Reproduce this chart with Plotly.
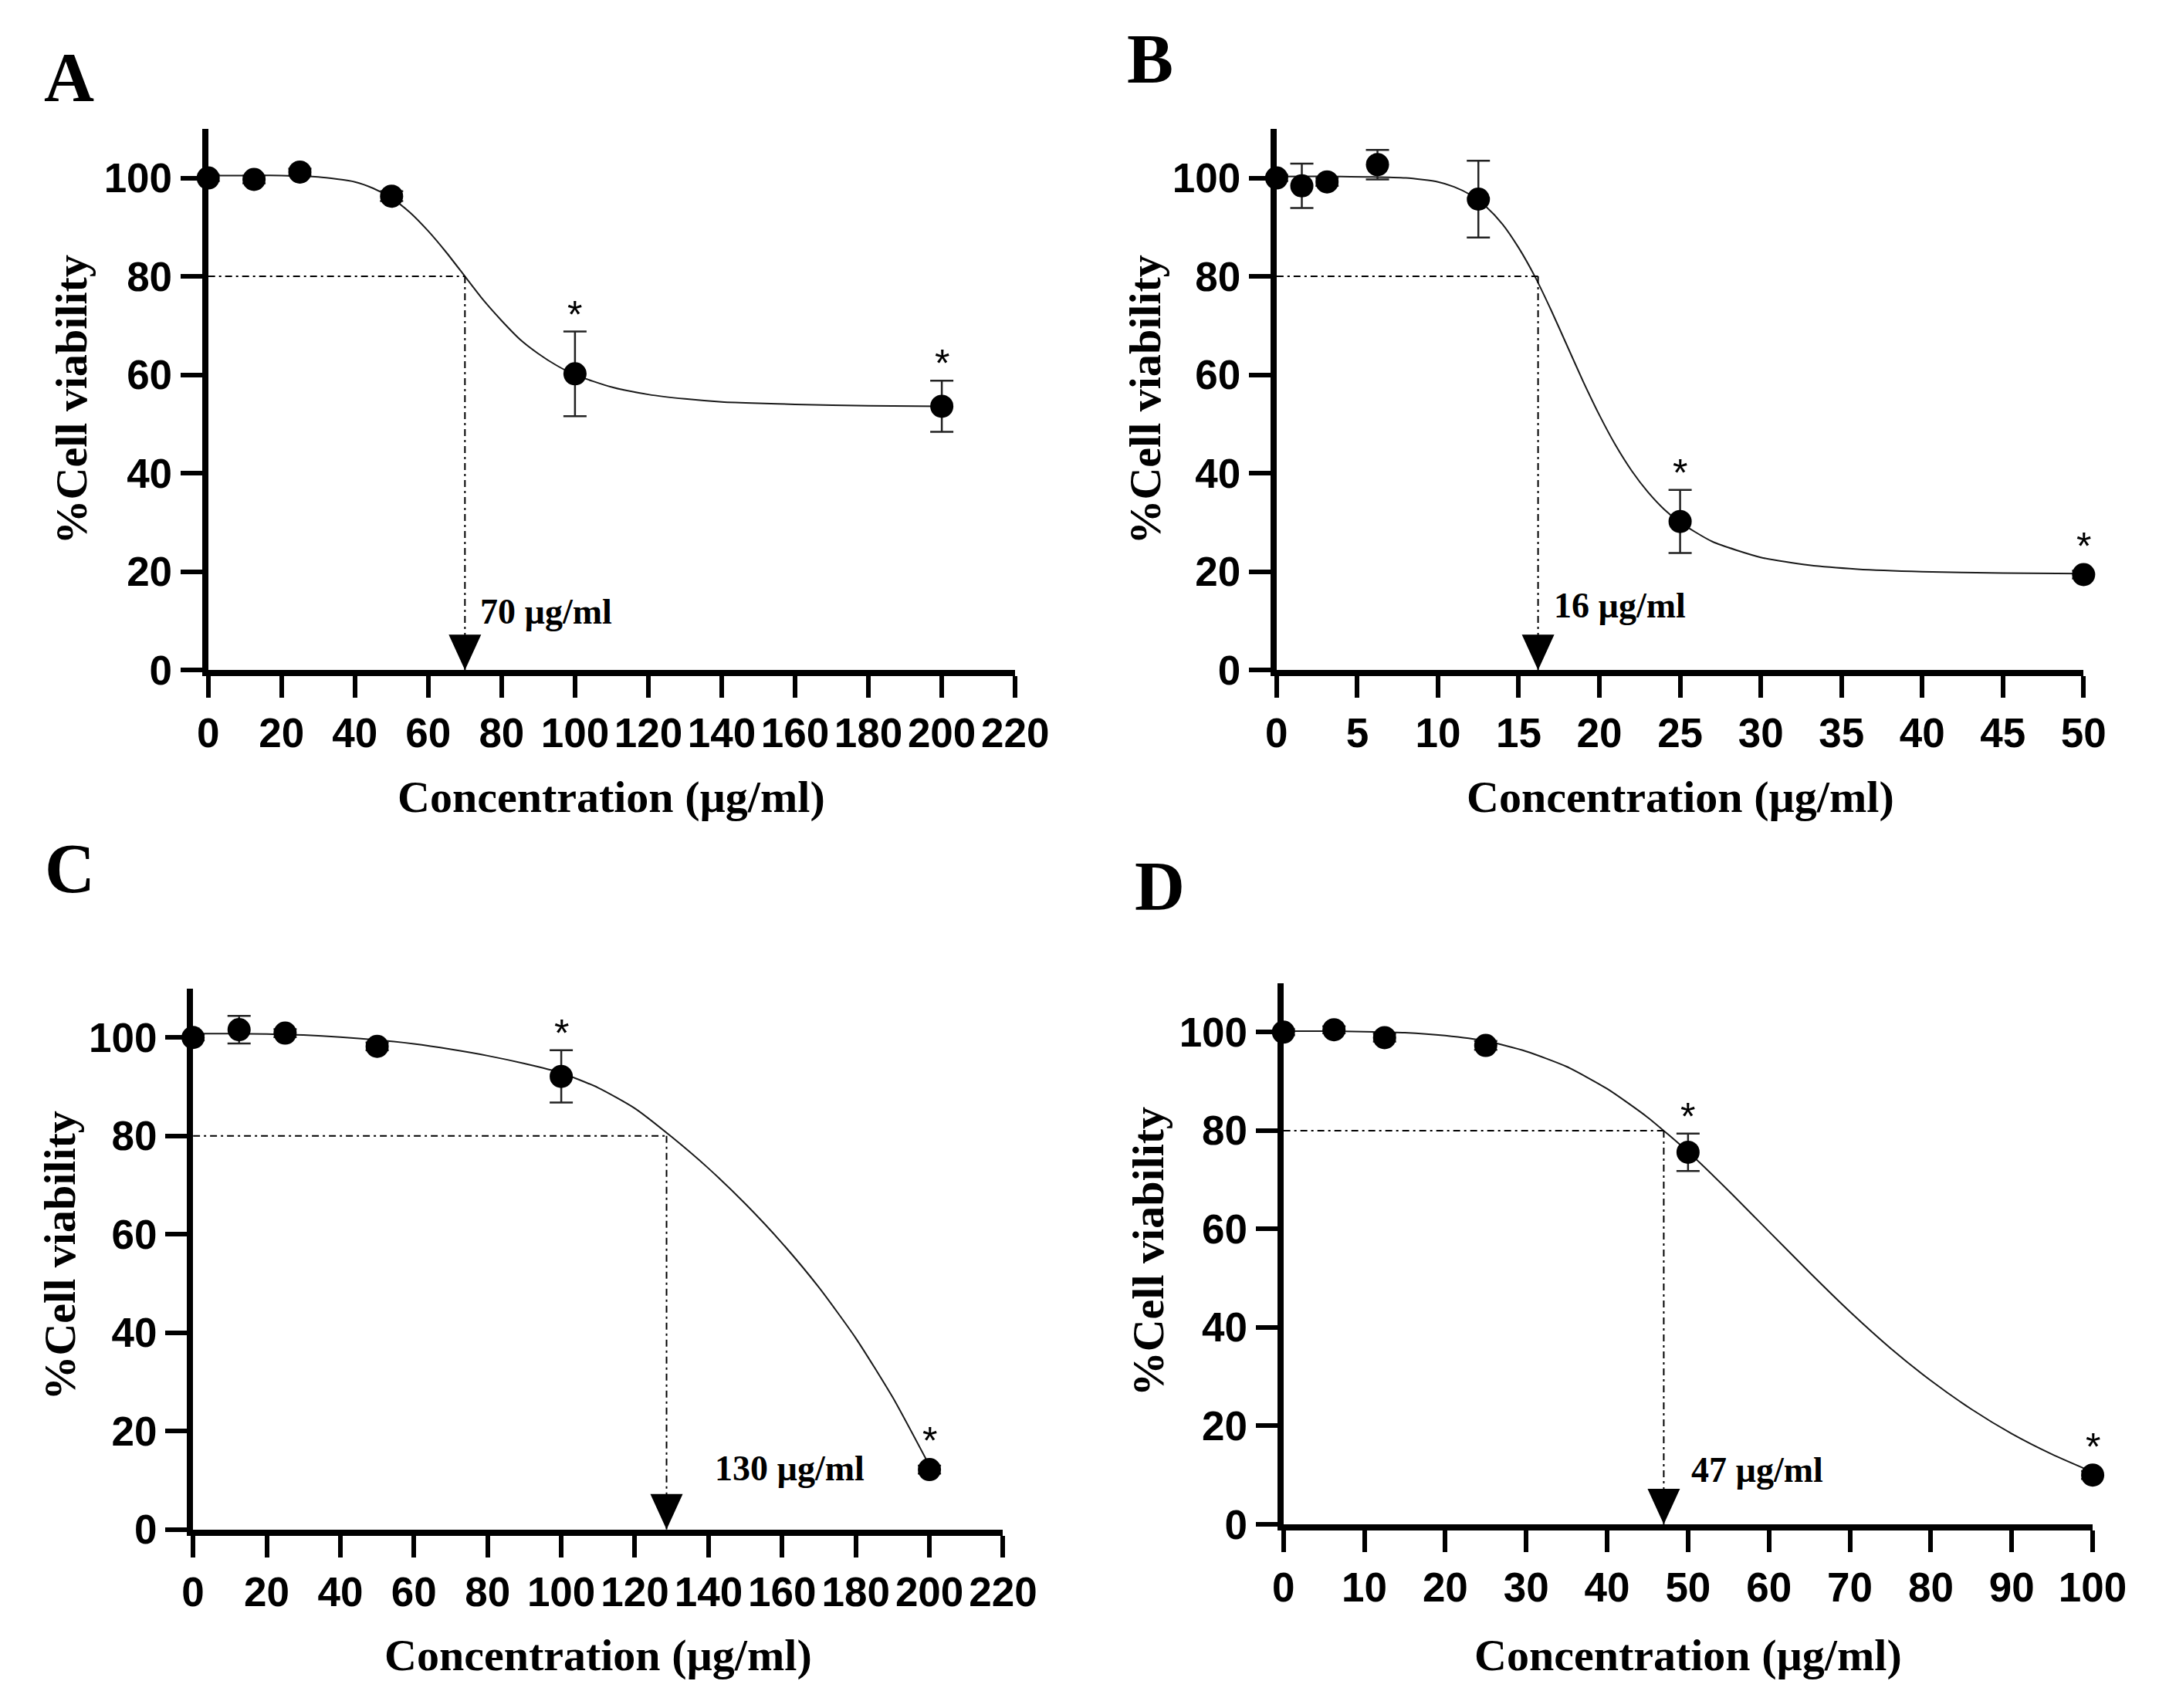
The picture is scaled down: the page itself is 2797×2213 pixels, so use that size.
import plotly.graph_objects as go

# ------------------------------------------------------------
# data
# ------------------------------------------------------------
cut_level = 80  # % viability used for the dashed guide lines

# A
conc_a = [0, 12.5, 25, 50, 100, 200]
via_a = [100.0, 99.7, 101.2, 96.3, 60.2, 53.6]
err_a = [0.6, 0.8, 0.7, 1.0, 8.6, 5.2]
fit_x_a = [0, 10, 20, 30, 40, 45, 50, 55, 60, 65, 70, 75, 80, 85, 90, 95, 100,
           110, 120, 130, 140, 150, 160, 180, 200]
fit_y_a = [100.5, 100.5, 100.5, 100.2, 99.2, 97.9, 95.9, 93.0, 89.2, 84.8, 80.0,
           75.2, 71.0, 67.2, 64.3, 61.9, 60.0, 57.5, 56.0, 55.1, 54.5, 54.2,
           54.0, 53.7, 53.6]
star_a = [100, 200]
ic_a = 70
label_a = "70 µg/ml"

# B
conc_b = [0, 1.5625, 3.125, 6.25, 12.5, 25, 50]
via_b = [100.0, 98.4, 99.2, 102.7, 95.7, 30.2, 19.4]
err_b = [0.6, 4.5, 0.8, 3.0, 7.8, 6.4, 0.8]
fit_x_b = [0, 4, 8, 10, 11, 12, 13, 14, 15, 16, 17, 18, 19, 20, 21, 22, 23, 24,
           25, 27, 30, 33, 36, 40, 45, 50]
fit_y_b = [100.3, 100.3, 100.0, 99.2, 98.2, 96.6, 94.1, 90.6, 85.8, 80.0, 73.2,
           65.9, 58.6, 51.8, 45.7, 40.5, 36.2, 32.7, 30.0, 26.1, 22.9, 21.3,
           20.5, 20.0, 19.7, 19.6]
star_b = [25, 50]
ic_b = 16.2
label_b = "16 µg/ml"

# C
conc_c = [0, 12.5, 25, 50, 100, 200]
via_c = [100.0, 101.6, 100.9, 98.2, 92.1, 12.2]
err_c = [0.6, 2.8, 0.8, 0.8, 5.3, 0.8]
fit_x_c = [0, 10, 20, 30, 40, 50, 60, 70, 80, 90, 100, 110, 120, 130, 140, 150,
           160, 170, 180, 190, 200]
fit_y_c = [100.8, 100.8, 100.7, 100.5, 100.1, 99.5, 98.7, 97.6, 96.3, 94.7, 92.8,
           89.8, 85.6, 79.8, 73.4, 66.2, 58.2, 49.2, 38.9, 26.9, 13.0]
star_c = [100, 200]
ic_c = 128.6
label_c = "130 µg/ml"

# D
conc_d = [0, 6.25, 12.5, 25, 50, 100]
via_d = [100.0, 100.5, 98.9, 97.3, 75.6, 10.0]
err_d = [0.6, 0.7, 0.8, 0.9, 3.8, 0.8]
fit_x_d = [0, 5, 10, 15, 20, 25, 30, 35, 40, 45, 50, 55, 60, 65, 70, 75, 80, 85,
           90, 95, 100]
fit_y_d = [100.2, 100.2, 100.1, 99.9, 99.3, 98.2, 96.1, 93.0, 88.5, 82.7, 75.7,
           67.8, 59.5, 51.2, 43.2, 35.8, 29.2, 23.4, 18.4, 14.2, 10.6]
star_d = [50, 100]
ic_d = 47
label_d = "47 µg/ml"

letters = ["A", "B", "C", "D"]
x_title = "Concentration (µg/ml)"
y_title = "%Cell viability"

# ------------------------------------------------------------
# page geometry (pixels of the 2797 x 2213 page)
# ------------------------------------------------------------
W, H = 2797, 2213
SERIF = "Liberation Serif"
SANS = "Liberation Sans"


def px(v):
    return v / W


def py(v):
    return 1 - v / H


panels = [
    dict(conc=conc_a, via=via_a, err=err_a, fx=fit_x_a, fy=fit_y_a, stars=star_a,
         ic=ic_a, label=label_a, xmax=220, dtick=20,
         box=(252, 1320, 161, 872), letter_at=(68, 94), ytitle_at=(72, 517),
         xtitle_y=1039, lab_y=11.8, lab_shift=18),
    dict(conc=conc_b, via=via_b, err=err_b, fx=fit_x_b, fy=fit_y_b, stars=star_b,
         ic=ic_b, label=label_b, xmax=50, dtick=5,
         box=(1666, 2734, 161, 872), letter_at=(1499, 69), ytitle_at=(1492, 517),
         xtitle_y=1039, lab_y=13.2, lab_shift=18),
    dict(conc=conc_c, via=via_c, err=err_c, fx=fit_x_c, fy=fit_y_c, stars=star_c,
         ic=ic_c, label=label_c, xmax=220, dtick=20,
         box=(232, 1304, 1290, 2001), letter_at=(69, 1133), ytitle_at=(56, 1641),
         xtitle_y=2166, lab_y=12.5, lab_shift=60),
    dict(conc=conc_d, via=via_d, err=err_d, fx=fit_x_d, fy=fit_y_d, stars=star_d,
         ic=ic_d, label=label_d, xmax=100, dtick=10,
         box=(1675, 2746, 1283, 1994), letter_at=(1511, 1156), ytitle_at=(1496, 1636),
         xtitle_y=2166, lab_y=11.0, lab_shift=34),
]

axis_style = dict(
    showline=True, linecolor="black", linewidth=8,
    ticks="outside", ticklen=28, tickwidth=6, tickcolor="black",
    showgrid=False, zeroline=False, tickangle=0, fixedrange=True,
    tickfont=dict(family=SANS, size=53, color="black", weight="bold"),
)

fig = go.Figure()
layout = {}
annotations = []
shapes = []

for i, p in enumerate(panels, start=1):
    xa = "x" if i == 1 else f"x{i}"
    ya = "y" if i == 1 else f"y{i}"
    left, right, top, bottom = p["box"]

    layout["xaxis" if i == 1 else f"xaxis{i}"] = dict(
        axis_style, range=[0, p["xmax"]], tick0=0, dtick=p["dtick"],
        domain=[px(left), px(right)], anchor=ya)
    layout["yaxis" if i == 1 else f"yaxis{i}"] = dict(
        axis_style, range=[0, 110], tick0=0, dtick=20,
        domain=[py(bottom), py(top)], anchor=xa)

    # fitted curve
    fig.add_trace(go.Scatter(
        x=p["fx"], y=p["fy"], mode="lines", xaxis=xa, yaxis=ya,
        line=dict(color="#1a1a1a", width=2, shape="spline", smoothing=0.6),
        hoverinfo="skip", showlegend=False))

    # guide lines at the cut level
    guide = dict(color="black", width=2, dash="9px,5px,3px,5px")
    fig.add_trace(go.Scatter(
        x=[0, p["ic"]], y=[cut_level, cut_level], mode="lines", xaxis=xa, yaxis=ya,
        line=guide, hoverinfo="skip", showlegend=False))
    fig.add_trace(go.Scatter(
        x=[p["ic"], p["ic"]], y=[cut_level, 0], mode="lines", xaxis=xa, yaxis=ya,
        line=guide, hoverinfo="skip", showlegend=False))

    # mean +/- SD
    fig.add_trace(go.Scatter(
        x=p["conc"], y=p["via"], mode="markers", xaxis=xa, yaxis=ya,
        marker=dict(size=30, color="black"),
        error_y=dict(type="data", array=p["err"], color="#222222",
                     thickness=2.5, width=15),
        cliponaxis=False, showlegend=False))

    # arrow head pointing at the x axis
    shapes.append(dict(
        type="path", xref=xa, yref=ya, xsizemode="pixel", ysizemode="pixel",
        xanchor=p["ic"], yanchor=0, path="M-21,46 L21,46 L0,0 Z",
        fillcolor="black", line=dict(width=0), layer="above"))

    # IC label
    annotations.append(dict(
        xref=xa, yref=ya, x=p["ic"], y=p["lab_y"], text=p["label"],
        showarrow=False, xanchor="left", yanchor="middle", xshift=p["lab_shift"],
        font=dict(family=SERIF, size=46, color="black", weight="bold")))

    # significance stars
    for sx in p["stars"]:
        k = p["conc"].index(sx)
        annotations.append(dict(
            xref=xa, yref=ya, x=sx, y=p["via"][k] + max(p["err"][k], 2.3),
            text="*", showarrow=False, yanchor="bottom", yshift=-8,
            font=dict(family=SANS, size=50, color="black")))

    # panel letter and axis titles
    lx, ly = p["letter_at"]
    annotations.append(dict(
        xref="paper", yref="paper", x=px(lx), y=py(ly), text=letters[i - 1],
        showarrow=False, xanchor="center", yanchor="middle",
        font=dict(family=SERIF, size=90, color="black", weight="bold")))
    tx, ty = p["ytitle_at"]
    annotations.append(dict(
        xref="paper", yref="paper", x=px(tx), y=py(ty), text=y_title,
        textangle=-90, showarrow=False, xanchor="center", yanchor="middle",
        font=dict(family=SERIF, size=58, color="black", weight="bold")))
    annotations.append(dict(
        xref="paper", yref="paper", x=px((left + right) / 2), y=py(p["xtitle_y"]),
        text=x_title, showarrow=False, xanchor="center", yanchor="middle",
        font=dict(family=SERIF, size=58, color="black", weight="bold")))

layout.update(
    width=W, height=H, margin=dict(l=0, r=0, t=0, b=0),
    paper_bgcolor="white", plot_bgcolor="white",
    showlegend=False, annotations=annotations, shapes=shapes,
)
fig.update_layout(**layout)

fig.write_html("out.html")
